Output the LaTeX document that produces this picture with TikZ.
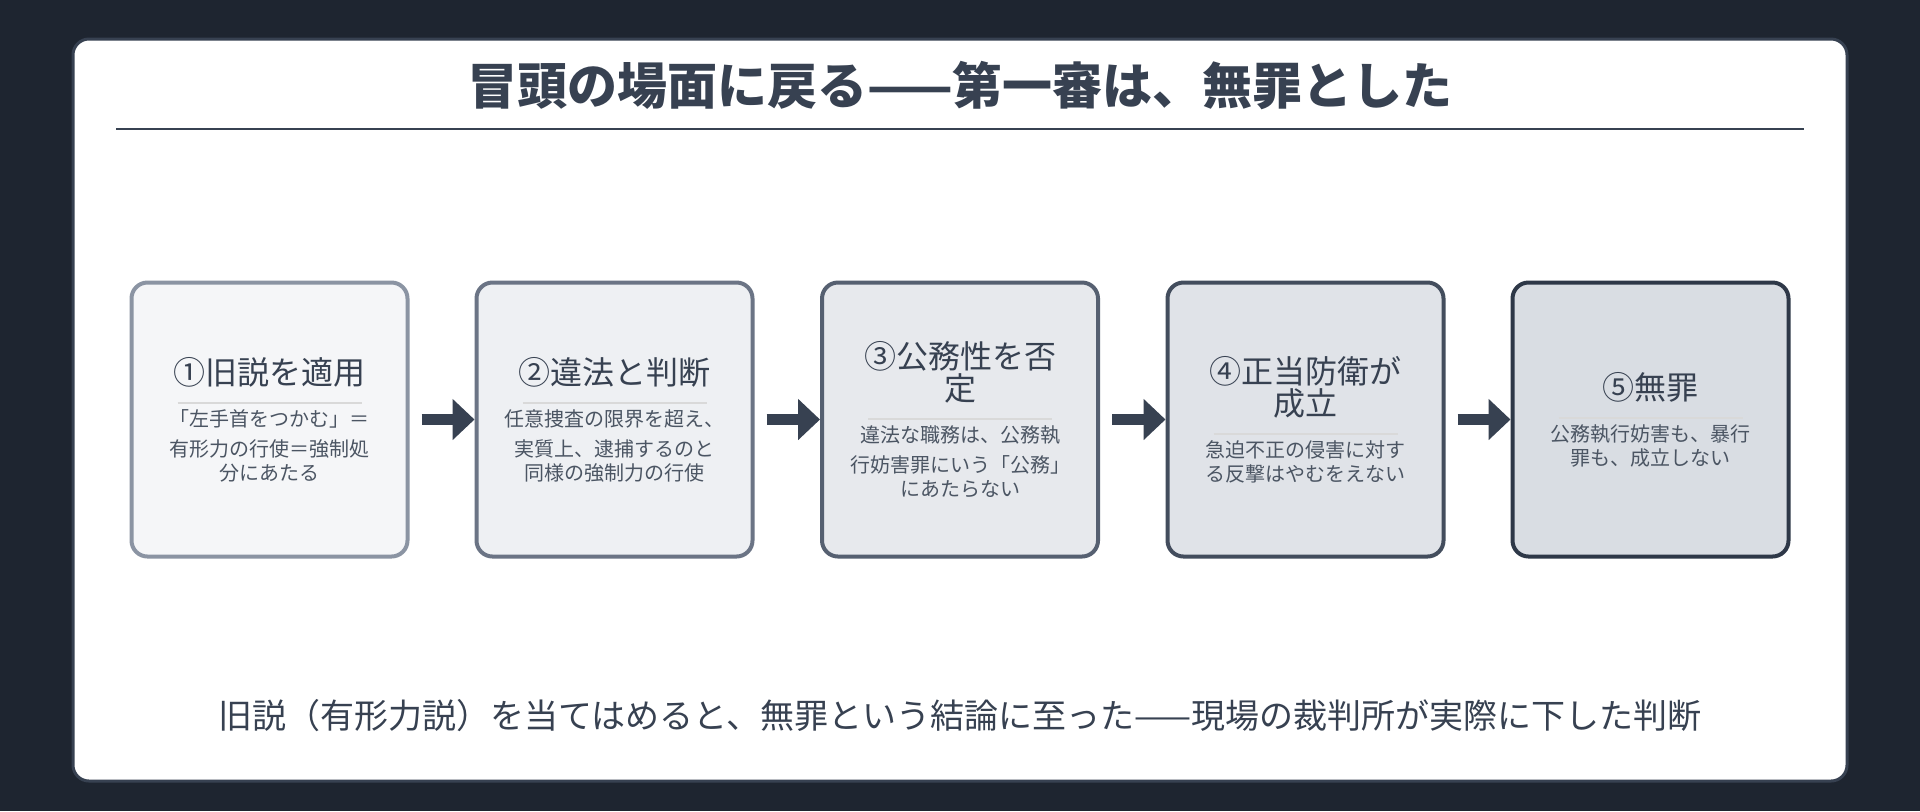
\documentclass[tikz,border=0pt]{standalone}
\usepackage{fontspec}
\setmainfont{Noto Sans CJK JP}
\usetikzlibrary{arrows.meta}

\definecolor{bgdark}{HTML}{1E2530}
\definecolor{ink}{HTML}{374151}
\definecolor{body}{HTML}{4B5563}
\definecolor{fillA}{HTML}{F5F6F8}
\definecolor{fillB}{HTML}{EEF0F3}
\definecolor{fillC}{HTML}{E7E9ED}
\definecolor{fillD}{HTML}{E0E3E8}
\definecolor{fillE}{HTML}{D9DDE3}
\definecolor{lineA}{HTML}{8B94A3}
\definecolor{lineB}{HTML}{6B7485}
\definecolor{lineC}{HTML}{566071}
\definecolor{lineD}{HTML}{434D5D}
\definecolor{lineE}{HTML}{2E3848}

\newcommand{\stepbox}[2]{{\fontsize{16pt}{20pt}\selectfont\color{ink}#1}\\[-2pt]
  {\color{black!15}\rule{92pt}{1.2pt}}\\[-4pt]
  {\fontsize{10pt}{15pt}\selectfont\color{body}#2}}

\tikzset{
  step/.style={draw=#1, line width=2pt, rounded corners=8pt,
    minimum width=138pt, minimum height=137pt, align=center,
    text width=124pt, inner sep=0pt},
  flow/.style={line width=5.5pt, ink, -{Triangle[length=11pt,width=20pt]},
    shorten <=6pt, shorten >=0pt}
}

\begin{document}
\begin{tikzpicture}[x=0.5pt, y=-0.5pt]
\fill[bgdark] (0,0) rectangle (1920,811);
\draw[fill=white, draw=ink, line width=1.5pt, rounded corners=8pt] (73,39) rectangle (1847,781);
\useasboundingbox (0,0) rectangle (1920,811);

\node (title) at (960,86) {\fontsize{25pt}{30pt}\selectfont\bfseries\color{ink}冒頭の場面に戻る——第一審は、無罪とした};
\draw[ink, line width=1pt] (116,129) -- (1804,129);

\node[step=lineA, fill=fillA] (b1) at (269.5,419.5) {\stepbox{①旧説を適用}{「左手首をつかむ」＝\\有形力の行使＝強制処\\分にあたる}};
\node[step=lineB, fill=fillB] (b2) at (614.5,419.5) {\stepbox{②違法と判断}{任意捜査の限界を超え、\\実質上、逮捕するのと\\同様の強制力の行使}};
\node[step=lineC, fill=fillC] (b3) at (960,419.5) {\stepbox{③公務性を否\\定}{違法な職務は、公務執\\行妨害罪にいう「公務」\\にあたらない}};
\node[step=lineD, fill=fillD] (b4) at (1305.5,419.5) {\stepbox{④正当防衛が\\成立}{急迫不正の侵害に対す\\る反撃はやむをえない}};
\node[step=lineE, fill=fillE] (b5) at (1650.5,419.5) {\stepbox{⑤無罪}{公務執行妨害も、暴行\\罪も、成立しない}};

\draw[flow] (b1) -- (b2);
\draw[flow] (b2) -- (b3);
\draw[flow] (b3) -- (b4);
\draw[flow] (b4) -- (b5);

\node (note) at (960,716) {\fontsize{17pt}{20pt}\selectfont\color{ink}旧説（有形力説）を当てはめると、無罪という結論に至った——現場の裁判所が実際に下した判断};
\end{tikzpicture}
\end{document}
